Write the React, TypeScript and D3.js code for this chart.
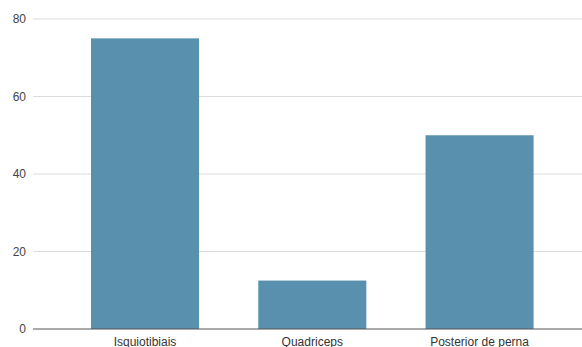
import React from "react";
import * as d3 from "d3";

const categories = ["Isquiotibiais", "Quadriceps", "Posterior de perna"];
const values = [75, 12.5, 50];
const yTicks = [0, 20, 40, 60, 80];

export default function App() {
  const W = 582, H = 347;
  const y = d3.scaleLinear().domain([0, 80]).range([329, 19]);
  const x = d3.scaleBand<string>().domain(categories).range([61.4, 563.2]).paddingInner(0.354).paddingOuter(0.177);
  const font = "'Liberation Sans', Arial, sans-serif";
  return (
    <svg width={W} height={H} style={{ position: "absolute", left: 0, top: 0 }}>
      <rect width={W} height={H} fill="#fff" />
      {yTicks.map((t) => (
        <g key={t}>
          {t !== 0 && <line x1={33} x2={582} y1={y(t)} y2={y(t)} stroke="#dcdcdc" strokeWidth={1} />}
          <text x={26} y={y(t)} dy="0.35em" textAnchor="end" fontFamily={font} fontSize={12} fill="#444">{t}</text>
        </g>
      ))}
      {categories.map((c, i) => (
        <rect key={c} x={x(c)} width={x.bandwidth()} y={y(values[i])} height={y(0) - y(values[i])} fill="#5990ad" />
      ))}
      <line x1={33} x2={582} y1={y(0)} y2={y(0)} stroke="#555" strokeWidth={1.2} />
      {categories.map((c) => (
        <text key={c} x={(x(c) as number) + x.bandwidth() / 2} y={346} textAnchor="middle" fontFamily={font} fontSize={12} fill="#333">{c}</text>
      ))}
    </svg>
  );
}
